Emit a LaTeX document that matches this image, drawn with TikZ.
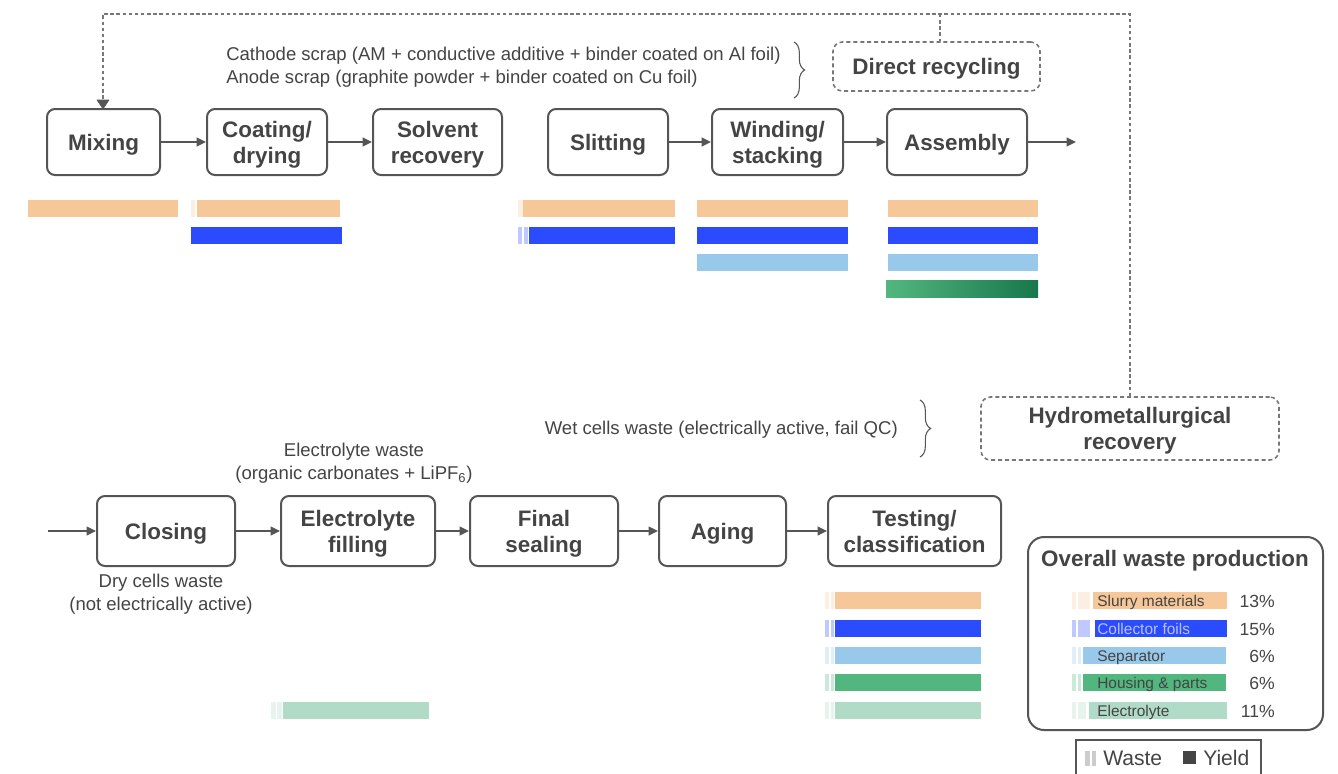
\documentclass[tikz,border=0pt]{standalone}
\usepackage{fontspec}
\setmainfont{Liberation Sans}
\usetikzlibrary{arrows.meta,decorations.pathreplacing}
\definecolor{txt}{HTML}{444444}
\definecolor{edge}{HTML}{555555}
\definecolor{dash}{HTML}{777777}
\definecolor{slurry}{HTML}{F5C799}
\definecolor{foil}{HTML}{2B4BFF}
\definecolor{sep}{HTML}{98C8EA}
\definecolor{house}{HTML}{52B77F}
\definecolor{housedark}{HTML}{17774C}
\definecolor{elec}{HTML}{B0DBC7}
\definecolor{foiltxt}{HTML}{B8C0FF}
\tikzset{
  proc/.style={draw=edge, line width=1.5pt, rounded corners=6pt, align=center,
    font=\fontsize{16.8}{19.5}\selectfont\bfseries, text=txt, inner sep=0pt, text depth=0pt},
  dashbox/.style={draw=dash, line width=1.2pt, dash pattern=on 3pt off 2.2pt, rounded corners=7pt,
    align=center, font=\fontsize{16.8}{19.5}\selectfont\bfseries, text=txt, inner sep=0pt, text depth=0pt},
  flow/.style={draw=edge, line width=1.1pt, -{Triangle[length=7pt,width=6.5pt]}},
  loop/.style={draw=dash, line width=0.9pt, dash pattern=on 2.6pt off 2pt},
  note/.style={font=\fontsize{13.9}{17.5}\selectfont, text=txt, align=center, inner sep=0pt},
  lbl/.style={font=\fontsize{11.6}{13}\selectfont, text=txt, anchor=base west, inner sep=0pt},
  pct/.style={font=\fontsize{13.2}{15}\selectfont, text=txt, anchor=base east, inner sep=0pt},
  brc/.style={draw=edge, line width=0.8pt, decorate, decoration={brace, amplitude=8pt}}
}
\begin{document}
\begin{tikzpicture}[x=0.75pt, y=-0.75pt]
\useasboundingbox (0,0) rectangle (1338,774);
\fill[white] (0,0) rectangle (1338,774);

% ---------- top row ----------
\node[proc, minimum width=84.75pt, minimum height=49.5pt] (mix) at (103.5,142) {Mixing};
\node[proc, minimum width=90pt, minimum height=49.5pt] (coat) at (267,142) {Coating/\\drying};
\node[proc, minimum width=96.75pt, minimum height=49.5pt] (solv) at (437.5,142) {Solvent\\recovery};
\node[proc, minimum width=90pt, minimum height=49.5pt] (slit) at (608,142) {Slitting};
\node[proc, minimum width=98.25pt, minimum height=49.5pt] (wind) at (777.5,142) {Winding/\\stacking};
\node[proc, minimum width=105pt, minimum height=49.5pt] (asm) at (957,142) {Assembly};
\coordinate (topout) at (1076,142);
\draw[flow] (mix) -- (coat);
\draw[flow] (coat) -- (solv);
\draw[flow] (slit) -- (wind);
\draw[flow] (wind) -- (asm);
\draw[flow] (asm) -- (topout);

% ---------- recycling boxes & loop ----------
\node[dashbox, minimum width=155.25pt, minimum height=36.75pt] (direct) at (936.5,66.5) {Direct recycling};
\node[dashbox, minimum width=223.5pt, minimum height=47.25pt] (hydro) at (1130,428.5) {Hydrometallurgical\\recovery};
\coordinate (c1) at (103,14);
\coordinate (c2) at (1130,14);
\coordinate (c3) at (940,14);
\draw[loop] (hydro.north) -- (c2) -- (c1) -- (c1 |- mix.north);
\draw[draw=edge, fill=edge] (97,100) -- (109,100) -- (103,109) -- cycle;
\draw[loop] (c3) -- (c3 |- direct.north);

% ---------- scrap notes ----------
\node[note, anchor=base west] (cath) at (226,61) {Cathode scrap (AM + conductive additive + binder coated on Al foil)};
\node[note, anchor=base west] (anod) at (226,84) {Anode scrap (graphite powder + binder coated on Cu foil)};
\coordinate (b1) at (794,42);
\coordinate (b2) at (794,98);
\draw[brc] (b1) -- (b2);

\node[note, anchor=base east] (wet) at (898,434) {Wet cells waste (electrically active, fail QC)};
\coordinate (b3) at (920,400);
\coordinate (b4) at (920,457);
\draw[brc] (b3) -- (b4);

% ---------- bottom row ----------
\coordinate (botin) at (48,531);
\node[proc, minimum width=103.5pt, minimum height=52.5pt] (close) at (166,531) {Closing};
\node[proc, minimum width=115.5pt, minimum height=52.5pt] (fill) at (358,531) {Electrolyte\\filling};
\node[proc, minimum width=111pt, minimum height=52.5pt] (seal) at (544,531) {Final\\sealing};
\node[proc, minimum width=95.25pt, minimum height=52.5pt] (age) at (722.5,531) {Aging};
\node[proc, minimum width=129.75pt, minimum height=52.5pt] (test) at (914.5,531) {Testing/\\classification};
\draw[flow] (botin) -- (close);
\draw[flow] (close) -- (fill);
\draw[flow] (fill) -- (seal);
\draw[flow] (seal) -- (age);
\draw[flow] (age) -- (test);

\node[note] (ew) at (354,463) {Electrolyte waste\\(organic carbonates + LiPF\textsubscript{6})};
\node[note] (dry) at (161,594) {Dry cells waste\\(not electrically active)};

% ---------- bars: top ----------
% Mixing
\fill[slurry] (28,200) rectangle (178,217);
% Coating
\fill[slurry!30] (191,200) rectangle (195,217);
\fill[slurry] (197,200) rectangle (340,217);
\fill[foil] (191,227) rectangle (342,244);
% Slitting
\fill[slurry!30] (518,200) rectangle (523,217);
\fill[slurry] (523,200) rectangle (675,217);
\fill[foil!30] (518,227) rectangle (522,244);
\fill[foil!30] (524,227) rectangle (528,244);
\fill[foil] (529,227) rectangle (675,244);
% Winding
\fill[slurry] (697,200) rectangle (848,217);
\fill[foil] (697,227) rectangle (848,244);
\fill[sep] (697,254) rectangle (848,271);
% Assembly
\fill[slurry] (888,200) rectangle (1038,217);
\fill[foil] (888,227) rectangle (1038,244);
\fill[sep] (888,254) rectangle (1038,271);
\shade[left color=house, right color=housedark] (886,280) rectangle (1038,297);

% ---------- bars: bottom ----------
\foreach \c/\y in {slurry/592, foil/620, sep/647, house/674, elec/702}{
  \fill[\c!30] (825,\y) rectangle (829,\y+17);
  \fill[\c!30] (831,\y) rectangle (834,\y+17);
  \fill[\c] (835,\y) rectangle (981,\y+17);
}
\fill[elec!30] (271,702) rectangle (276,719);
\fill[elec!30] (277,702) rectangle (282,719);
\fill[elec] (283,702) rectangle (429,719);

% ---------- overall waste box ----------
\node[draw=edge, line width=1.5pt, rounded corners=12pt, minimum width=221.25pt, minimum height=144.75pt] (overall) at (1175.5,633.5) {};
\node[font=\fontsize{16.8}{19}\selectfont\bfseries, text=txt, inner sep=0pt, anchor=base] (ovt) at (1175,566) {Overall waste production};

\fill[slurry!30] (1072,592) rectangle (1076,609);
\fill[slurry!30] (1078,592) rectangle (1090,609);
\fill[slurry] (1093,592) rectangle (1227,609);
\node[lbl] (l1) at (1097,606) {Slurry materials};
\node[pct] (p1) at (1275,607) {13\%};

\fill[foil!30] (1072,620) rectangle (1076,637);
\fill[foil!30] (1078,620) rectangle (1090,637);
\fill[foil] (1095,620) rectangle (1227,637);
\node[lbl, text=foiltxt] (l2) at (1097,634) {Collector foils};
\node[pct] (p2) at (1275,635) {15\%};

\fill[sep!30] (1072,647) rectangle (1076,664);
\fill[sep!30] (1078,647) rectangle (1081,664);
\fill[sep] (1083,647) rectangle (1226,664);
\node[lbl] (l3) at (1097,661) {Separator};
\node[pct] (p3) at (1275,662) {6\%};

\fill[house!30] (1072,674) rectangle (1076,691);
\fill[house!30] (1078,674) rectangle (1081,691);
\fill[house] (1083,674) rectangle (1226,691);
\node[lbl] (l4) at (1097,688) {Housing \& parts};
\node[pct] (p4) at (1275,689) {6\%};

\fill[elec!30] (1072,702) rectangle (1076,719);
\fill[elec!30] (1078,702) rectangle (1086,719);
\fill[elec] (1089,702) rectangle (1227,719);
\node[lbl] (l5) at (1097,716) {Electrolyte};
\node[pct] (p5) at (1275,717) {11\%};

% ---------- legend ----------
\draw[draw=edge, line width=0.8pt] (1076,774) -- (1076,740) -- (1261,740) -- (1261,774);
\fill[black!20] (1085,751) rectangle (1090,766);
\fill[black!20] (1092,751) rectangle (1096,766);
\node[font=\fontsize{15.8}{17}\selectfont, text=txt, anchor=base west, inner sep=0pt] (lw) at (1103,765) {Waste};
\fill[txt] (1183,751) rectangle (1196,764);
\node[font=\fontsize{15.8}{17}\selectfont, text=txt, anchor=base west, inner sep=0pt] (ly) at (1203,765) {Yield};
\end{tikzpicture}
\end{document}
